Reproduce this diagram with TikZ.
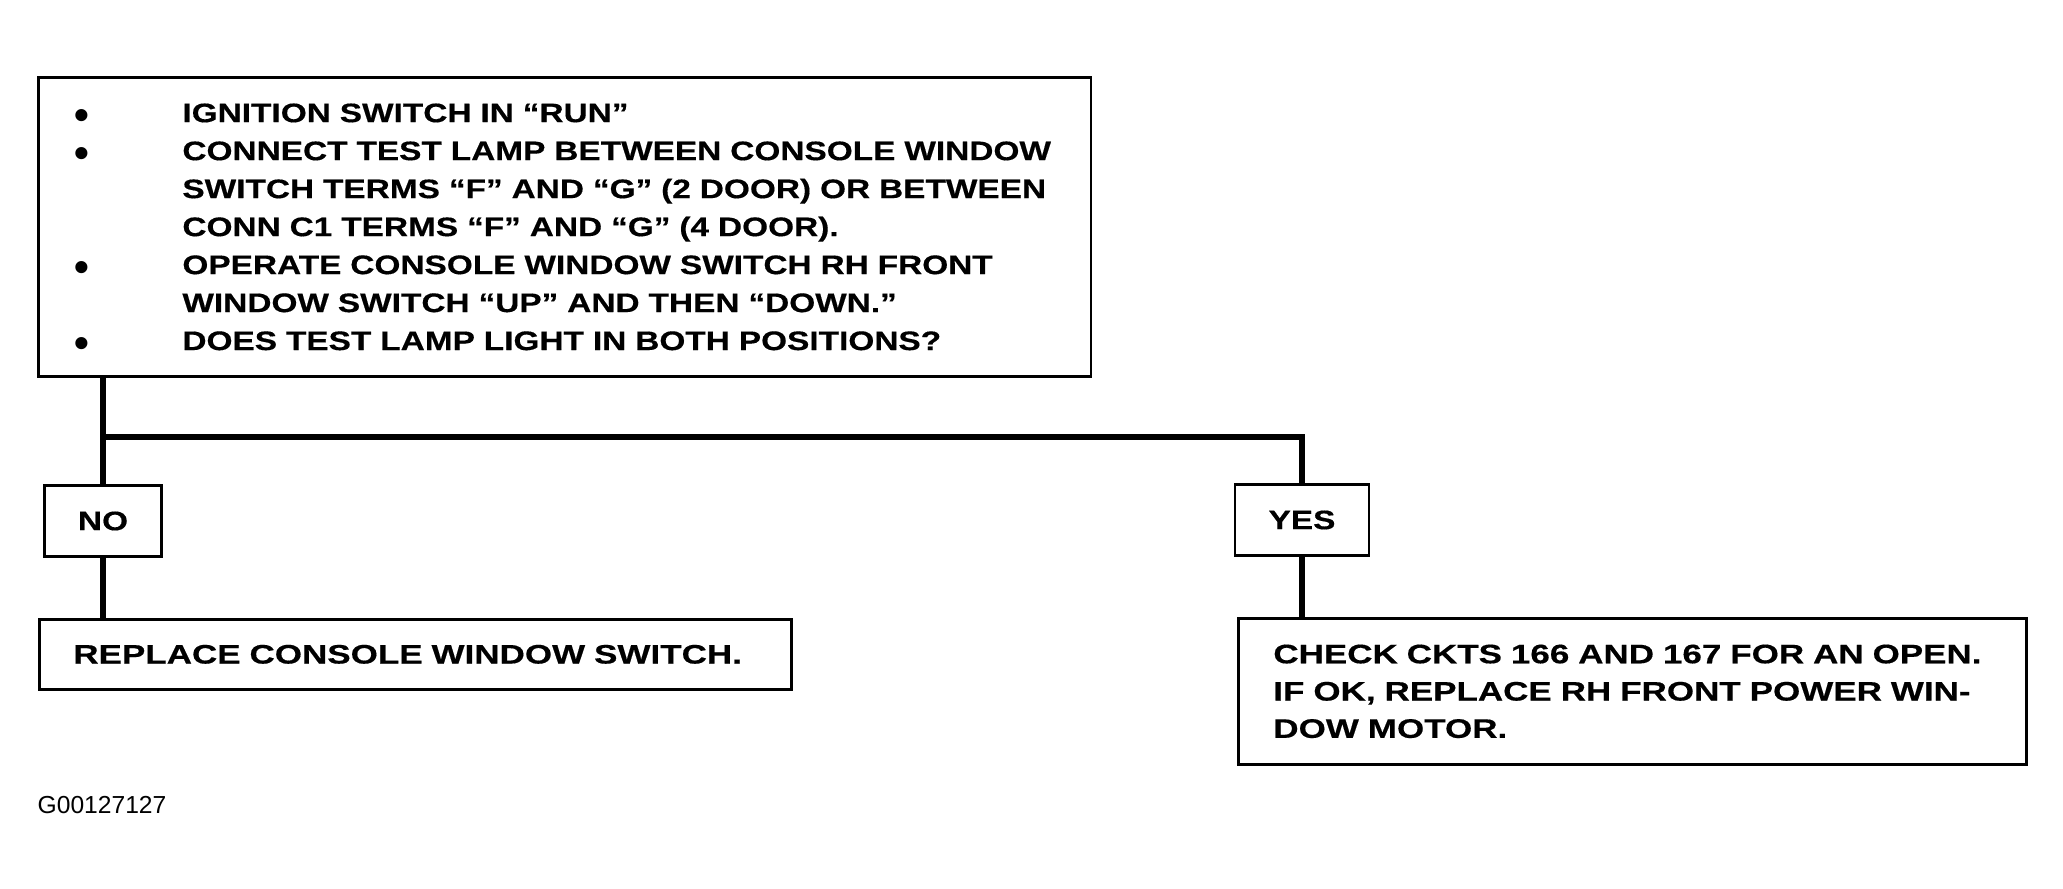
\documentclass[tikz,border=0pt]{standalone}
\usepackage{fontspec}
\usetikzlibrary{positioning, calc}
\newfontfamily\boxfont{Liberation Sans}[FakeStretch=1.25, FakeBold=0.4]
\newfontfamily\actfont{Liberation Sans}[FakeStretch=1.31, FakeBold=0.4]
\newfontfamily\tagfont{Liberation Sans}
\newcommand{\bul}[1]{\mbox{\makebox[1.05cm][l]{\hspace*{-0.03cm}\smash{\tagfont\fontsize{12}{10}\selectfont\raisebox{-2.1pt}{\textbullet}}}#1}}
\newcommand{\cont}[1]{\mbox{\hspace*{1.05cm}#1}}

\begin{document}
\begin{tikzpicture}[
    x=0.01cm, y=-0.01cm,
    query/.style={rectangle, draw=black, line width=0.75pt, align=left, inner ysep=0pt, font=\boxfont\bfseries\fontsize{7.6}{10.8}\selectfont},
    answer/.style={rectangle, draw=black, line width=0.75pt, inner sep=0pt, text centered, minimum height=0.71cm, font=\boxfont\bfseries\fontsize{7.6}{10.6}\selectfont},
    action/.style={rectangle, draw=black, line width=0.75pt, align=left, inner ysep=0pt, font=\actfont\bfseries\fontsize{7.6}{10.6}\selectfont},
    link/.style={line width=1.8pt},
]
\useasboundingbox (0,0) rectangle (2063,889);

% Test to perform
\node[query, anchor=north west, inner xsep=0.39cm, text width=9.74cm, minimum height=2.99cm] (test) at (37,76) {%
\bul{IGNITION SWITCH IN “RUN”}\\
\bul{CONNECT TEST LAMP BETWEEN CONSOLE WINDOW}\\
\cont{SWITCH TERMS “F” AND “G” (2 DOOR) OR BETWEEN}\\
\cont{CONN C1 TERMS “F” AND “G” (4 DOOR).}\\
\bul{OPERATE CONSOLE WINDOW SWITCH RH FRONT}\\
\cont{WINDOW SWITCH “UP” AND THEN “DOWN.”}\\
\bul{DOES TEST LAMP LIGHT IN BOTH POSITIONS?}};

% Answers
\node[answer, minimum width=1.17cm] (no) at (103,521) {NO};
\node[answer, minimum width=1.34cm] (yes) at (1302,520) {YES};

% Actions
\node[action, anchor=north west, inner xsep=0.34cm, text width=6.84cm, minimum height=0.70cm] (swap) at (38,618) {REPLACE CONSOLE WINDOW SWITCH.};
\node[action, anchor=north west, inner xsep=0.35cm, text width=7.18cm, minimum height=1.46cm] (motor) at (1237,617) {%
CHECK CKTS 166 AND 167 FOR AN OPEN.\\
IF OK, REPLACE RH FRONT POWER WIN-\\
DOW MOTOR.};

% Figure number
\node[anchor=west, inner sep=0pt, font=\tagfont\fontsize{7}{8}\selectfont] (figid) at (37,805) {G00127127};

% Lines
\coordinate (fork) at (103,437);
\draw[link] (test.south -| no.north) -- (no.north);
\draw[link] (fork) -| (yes.north);
\draw[link] (no.south) -- (no.south |- swap.north);
\draw[link] (yes.south) -- (yes.south |- motor.north);

\end{tikzpicture}
\end{document}
